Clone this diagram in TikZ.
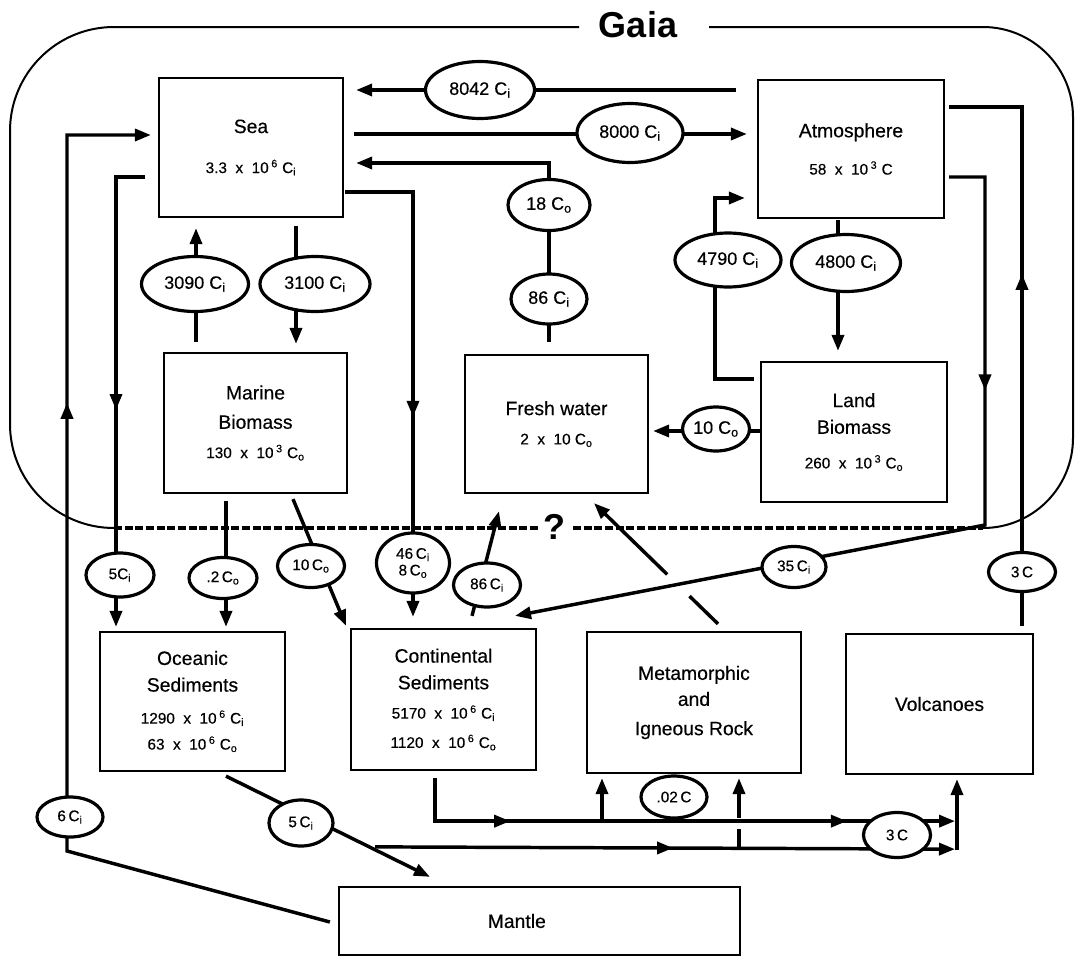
\documentclass[tikz,border=0pt]{standalone}
\usepackage{fontspec}
\setmainfont{Liberation Sans}[UprightFeatures={FakeBold=0.4}]
\usetikzlibrary{arrows.meta,calc,shapes.geometric,backgrounds,decorations.markings}

\newcommand{\Cin}{C\textsubscript{i}}
\newcommand{\Corg}{C\textsubscript{o}}
\newcommand{\tenp}[1]{10\,\textsuperscript{#1}}
\newcommand{\numsize}{\fontsize{11.5}{22}\selectfont}

\begin{document}
\begin{tikzpicture}[
    x=0.75pt, y=-0.75pt,
    box/.style 2 args={draw, line width=1.7pt, minimum width=#1*0.75pt,
      minimum height=#2*0.75pt, inner sep=0pt, align=center,
      font=\fontsize{14.5}{22}\selectfont},
    oval/.style 2 args={ellipse, draw, line width=2.4pt, fill=white,
      minimum width=#1*0.75pt, minimum height=#2*0.75pt, inner sep=0pt,
      font=\fontsize{13.5}{16}\selectfont},
    lowoval/.style={font=\fontsize{11.5}{12.5}\selectfont, align=center},
    flow/.style={line width=2.6pt},
    arr/.style={-{Triangle[length=12pt,width=9pt]}},
    midarr/.style={postaction={decorate, decoration={markings,
      mark=at position #1 with {\arrow{Triangle[length=12pt,width=9pt]}}}}},
    gaiaedge/.style={line width=1.5pt},
    gaiafloor/.style={line width=3pt, dash pattern=on 6pt off 2pt}
  ]
  \useasboundingbox (0,0) rectangle (1076,957);

  % Gaia
  \draw[gaiaedge, rounded corners=78pt] (579,27) -- (10,27) -- (10,528) -- (114,528);
  \draw[gaiaedge, rounded corners=67.5pt] (709,27) -- (1073,27) -- (1073,528) -- (983,528);
  \draw[gaiafloor] (114,528) -- (540,528) (573,528) -- (983,528);
  \node[font=\fontsize{27}{30}\selectfont\bfseries] (gaia) at (638,25) {Gaia};
  \node[font=\fontsize{27}{30}\selectfont\bfseries] (query) at (554,527) {?};

  % reservoirs
  \node[box={184}{139}] (sea) at (251,147.5) {Sea\\[8pt]{\numsize 3.3\ \ x\ \ \tenp{6}\ \Cin}};
  \node[box={186}{138}] (atm) at (851,149) {Atmosphere\\[6pt]{\numsize 58\ \ x\ \ \tenp{3}\ C}};
  \node[box={183}{140}] (marine) at (255.5,423) {Marine\\Biomass\\{\numsize 130\ \ x\ \ \tenp{3}\ \Corg}};
  \node[box={183}{138}] (fresh) at (556.5,424) {Fresh water\\{\numsize 2\ \ x\ \ 10\ \Corg}};
  \node[box={186}{140}] (land) at (854,432) {Land\\[-2pt]Biomass\\[4pt]{\numsize 260\ \ x\ \ \tenp{3}\ \Corg}};
  \node[box={185}{139}] (ocean) at (192.5,701.5) {Oceanic\\[-2pt]Sediments\\[2pt]{\numsize 1290\ \ x\ \ \tenp{6}\ \Cin}\\[-2.5pt]{\numsize 63\ \ x\ \ \tenp{6}\ \Corg}};
  \node[box={185}{141}] (cont) at (443.5,699.5) {Continental\\[-2pt]Sediments\\{\numsize 5170\ \ x\ \ \tenp{6}\ \Cin}\\{\numsize 1120\ \ x\ \ \tenp{6}\ \Corg}};
  \node[box={214}{141}] (meta) at (694,702.5) {Metamorphic\\[-2.5pt]and\\Igneous Rock};
  \node[box={187}{140}] (volc) at (939.5,704) {Volcanoes};
  \node[box={401}{68}] (mantle) at (539.5,921) {Mantle\hspace*{34pt}};

  % fluxes
  \node[oval={109}{57}] (e8042) at (480,90) {8042 \Cin};
  \node[oval={106}{59}] (e8000) at (630,133) {8000 \Cin};
  \node[oval={82}{51}] (e18) at (549,205) {18 \Corg};
  \node[oval={76}{50}] (e86a) at (549,299) {86 \Cin};
  \node[oval={107}{55}] (e3090) at (195,284) {3090 \Cin};
  \node[oval={110}{55}] (e3100) at (315,284) {3100 \Cin};
  \node[oval={106}{54}] (e4790) at (728,260) {4790 \Cin};
  \node[oval={109}{57}] (e4800) at (846,263) {4800 \Cin};
  \node[oval={67}{44}] (e10a) at (716,429) {10 \Corg};
  \node[oval={68}{44}, lowoval] (e5a) at (120,575) {5\Cin};
  \node[oval={68}{41}, lowoval] (e02) at (223,578) {.2\,\Corg};
  \node[oval={67}{43}, lowoval] (e10b) at (311,566) {10\,\Corg};
  \node[oval={73}{60}, lowoval] (e46) at (413,563) {46\,\Cin\\8\,\Corg};
  \node[oval={67}{44}, lowoval] (e86b) at (487,585) {86\,\Cin};
  \node[oval={64}{41}, lowoval] (e35) at (794,567) {35\,\Cin};
  \node[oval={67}{39}, lowoval] (e3a) at (1022,572) {3\,C};
  \node[oval={66}{40}, lowoval] (e6) at (70,817) {6\,\Cin};
  \node[oval={64}{46}, lowoval] (e5b) at (301,823) {5\,\Cin};
  \node[oval={66}{42}, lowoval] (e002) at (674,797) {.02\,C};
  \node[oval={67}{45}, lowoval] (e3b) at (897,835) {3\,C};

  \coordinate (knee) at (985,525);
  \coordinate (hinge) at (67,851);
  \coordinate (mtop) at ($(meta.north)+(24,-7)$);
  \coordinate (fbot) at ($(fresh.south)+(37.5,9)$);

  \begin{scope}[on background layer]
    % inside Gaia
    \draw[flow,arr] ($(atm.west)+(-21,-59)$) -- ($(sea.east)+(12,-57.5)$);
    \draw[flow,arr] ($(sea.east)+(10,-13.5)$) -- ($(atm.west)+(-10,-15)$);
    \draw[flow,arr] ($(fresh.north)+(-7.5,-12)$) |- ($(sea.east)+(12,15.5)$);
    \draw[flow,arr] ($(sea.south)+(45,8)$) -- ($(marine.north)+(40.5,-8)$);
    \draw[flow,arr] ($(marine.north)+(-59.5,-10)$) -- ($(sea.south)+(-55,10)$);
    \draw[flow,arr] ($(atm.south)+(-13,1)$) -- ($(land.north)+(-16,-10)$);
    \draw[flow,arr] ($(land.west)+(-6,-53)$) -| ($(atm.west)+(-42,49)$) -- ($(atm.west)+(-12,49)$);
    \draw[flow,arr] ($(land.west)+(0,-1)$) -- ($(fresh.east)+(4,7)$);
    % across the rim
    \draw[flow,midarr=0.595] ($(volc.north)+(82.5,-7)$) |- ($(atm.east)+(4,-42)$);
    \draw[flow,arr,midarr=0.289] ($(atm.east)+(4,28)$) -| (knee) -- ($(cont.north)+(71.5,-12)$);
    \draw[flow,arr,midarr=0.547] ($(sea.west)+(-13,29.5)$) -| ($(ocean.north)+(-76.5,-4)$);
    \draw[flow,arr,midarr=0.672] ($(mantle.west)+(-8,1)$) -- (hinge) |- ($(sea.west)+(-7,-12.5)$);
    \draw[flow,arr,midarr=0.594] ($(sea.east)+(1,44.5)$) -| ($(cont.north)+(-30.5,-11)$);
    \draw[flow,arr] ($(marine.south)+(-29.5,7)$) -- ($(ocean.north)+(33.5,-4)$);
    \draw[flow,arr] ($(marine.south)+(37.5,5)$) -- ($(cont.north)+(-97.5,-2)$);
    \draw[flow,arr] ($(cont.north)+(28.5,-12)$) -- ($(fresh.south)+(-57.5,17)$);
    \draw[flow] (mtop) -- ($(mtop)!0.23!(fbot)$);
    \draw[flow,arr] ($(mtop)!0.41!(fbot)$) -- (fbot);
    % below
    \draw[flow,arr] ($(ocean.south)+(33.5,4)$) -- ($(mantle.north)+(-109.5,-9)$);
    \draw[flow,arr,midarr=0.210,midarr=0.808] ($(cont.south)+(-8.5,7)$) |- ($(volc.south)+(15.5,46)$);
    \draw[flow,arr] ($(meta.south)+(-92,47)$) -- ($(meta.south)+(-92,4)$);
    \draw[flow,arr,midarr=0.514] ($(mantle.north)+(-164.5,-39)$) -- ($(volc.south)+(15.5,74)$);
    \draw[flow,arr] ($(volc.south)+(17.5,75.3)$) -- ($(volc.south)+(17.5,4)$);
    \draw[flow] ($(meta.south)+(45,76)$) -- ($(meta.south)+(45,55)$);
    \draw[flow,arr] ($(meta.south)+(45,44)$) -- ($(meta.south)+(45,4)$);
  \end{scope}
\end{tikzpicture}
\end{document}
